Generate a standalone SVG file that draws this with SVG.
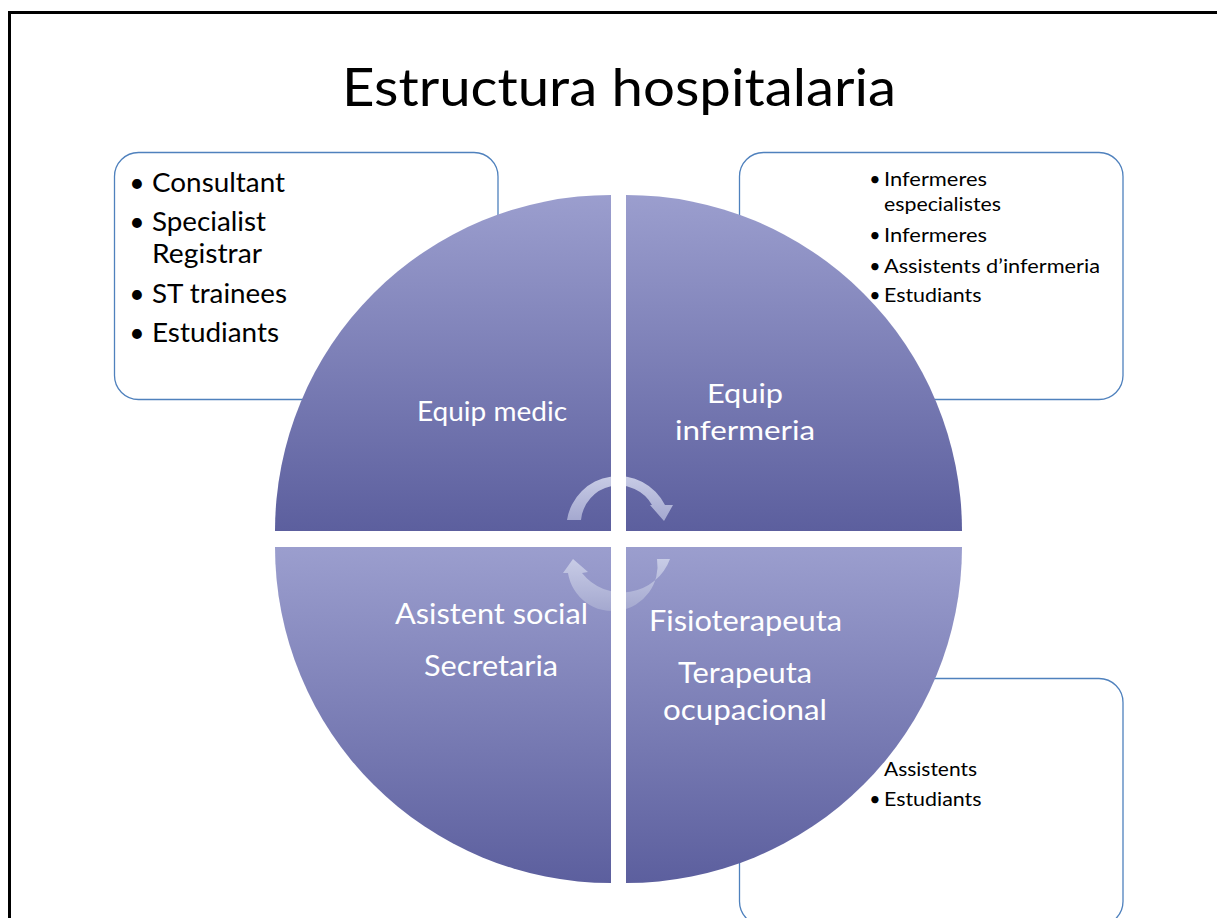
<svg xmlns="http://www.w3.org/2000/svg" width="1217" height="918" viewBox="0 0 1217 918">
<style>
  .box { fill: #ffffff; stroke: #4F81BD; stroke-width: 1.3; }
  .body { font-family: Lato, "Open Sans", "Liberation Sans", sans-serif; fill: #000000; }
  .lg { font-size: 26.5px; }
  .sm { font-size: 19.5px; }
  .bul { text-anchor: middle; }
  .quad { fill: url(#quadGrad); }
  .wt { font-family: Lato, "Open Sans", "Liberation Sans", sans-serif; fill: #ffffff; text-anchor: middle; }
  .title { font-family: Lato, "Open Sans", "Liberation Sans", sans-serif; font-size: 53px; fill: #000000; text-anchor: middle; }
  .arrow { fill: url(#arrowGrad); }
</style>
<defs>
  <linearGradient id="quadGrad" x1="0" y1="0" x2="0" y2="1">
    <stop offset="0" stop-color="#9B9ECE"/>
    <stop offset="1" stop-color="#5C5F9E"/>
  </linearGradient>
  <linearGradient id="arrowGrad" x1="0" y1="0" x2="0" y2="1">
    <stop offset="0" stop-color="#C8CCE6"/>
    <stop offset="1" stop-color="#A4A8CF"/>
  </linearGradient>
  <clipPath id="gapClip">
    <rect x="500" y="440" width="111" height="91"/>
    <rect x="626" y="440" width="111" height="91"/>
    <rect x="500" y="547" width="111" height="91"/>
    <rect x="626" y="547" width="111" height="91"/>
  </clipPath>
</defs>
<rect x="0" y="0" width="1217" height="918" fill="#ffffff"/>
<path d="M9.5,918 V12.5 H1217" fill="none" stroke="#000000" stroke-width="3"/>

<g id="title">
  <text class="title" x="619" y="106" textLength="554" lengthAdjust="spacingAndGlyphs">Estructura hospitalaria</text>
</g>

<g id="box-medic">
  <rect class="box" x="114.5" y="152.5" width="383.5" height="247" rx="24" ry="24"/>
  <text class="body lg bul" x="137" y="192">•</text>
  <text class="body lg" x="152" y="192" textLength="133" lengthAdjust="spacingAndGlyphs">Consultant</text>
  <text class="body lg bul" x="137" y="231">•</text>
  <text class="body lg" x="152" y="231" textLength="114" lengthAdjust="spacingAndGlyphs">Specialist</text>
  <text class="body lg" x="152" y="263" textLength="110" lengthAdjust="spacingAndGlyphs">Registrar</text>
  <text class="body lg bul" x="137" y="303">•</text>
  <text class="body lg" x="152" y="303" textLength="135" lengthAdjust="spacingAndGlyphs">ST trainees</text>
  <text class="body lg bul" x="137" y="342">•</text>
  <text class="body lg" x="152" y="342" textLength="127" lengthAdjust="spacingAndGlyphs">Estudiants</text>
</g>

<g id="box-infermeria">
  <rect class="box" x="739.5" y="152.5" width="383.5" height="247" rx="24" ry="24"/>
  <text class="body sm bul" x="875" y="186">•</text>
  <text class="body sm" x="884" y="186" textLength="103" lengthAdjust="spacingAndGlyphs">Infermeres</text>
  <text class="body sm" x="884" y="211" textLength="117" lengthAdjust="spacingAndGlyphs">especialistes</text>
  <text class="body sm bul" x="875" y="242">•</text>
  <text class="body sm" x="884" y="242" textLength="103" lengthAdjust="spacingAndGlyphs">Infermeres</text>
  <text class="body sm bul" x="875" y="273">•</text>
  <text class="body sm" x="884" y="273" textLength="216" lengthAdjust="spacingAndGlyphs">Assistents d’infermeria</text>
  <text class="body sm bul" x="875" y="302">•</text>
  <text class="body sm" x="884" y="302" textLength="97.5" lengthAdjust="spacingAndGlyphs">Estudiants</text>
</g>

<g id="box-terapia">
  <rect class="box" x="739.5" y="678.5" width="383.5" height="247" rx="24" ry="24"/>
  <text class="body sm" x="884" y="776" textLength="93" lengthAdjust="spacingAndGlyphs">Assistents</text>
  <text class="body sm bul" x="875" y="806">•</text>
  <text class="body sm" x="884" y="806" textLength="97.5" lengthAdjust="spacingAndGlyphs">Estudiants</text>
</g>

<g id="quad-medic">
  <path class="quad" d="M611,531 H275 A336,336 0 0 1 611,195 Z"/>
  <text class="wt" x="492" y="420.5" font-size="26px" textLength="150" lengthAdjust="spacingAndGlyphs">Equip medic</text>
</g>

<g id="quad-infermeria">
  <path class="quad" d="M626,531 V195 A336,336 0 0 1 962,531 Z"/>
  <text class="wt" x="745" y="403" font-size="27.5px" textLength="76" lengthAdjust="spacingAndGlyphs">Equip</text>
  <text class="wt" x="745" y="440" font-size="27.5px" textLength="140" lengthAdjust="spacingAndGlyphs">infermeria</text>
</g>

<g id="quad-social">
  <path class="quad" d="M611,547 V883 A336,336 0 0 1 275,547 Z"/>
  <text class="wt" x="491.5" y="624" font-size="29.5px" textLength="193" lengthAdjust="spacingAndGlyphs">Asistent social</text>
  <text class="wt" x="491" y="676" font-size="29.5px" textLength="134" lengthAdjust="spacingAndGlyphs">Secretaria</text>
</g>

<g id="quad-terapia">
  <path class="quad" d="M626,547 H962 A336,336 0 0 1 626,883 Z"/>
  <text class="wt" x="745.5" y="631" font-size="29.5px" textLength="193" lengthAdjust="spacingAndGlyphs">Fisioterapeuta</text>
  <text class="wt" x="745" y="683" font-size="29.5px" textLength="134" lengthAdjust="spacingAndGlyphs">Terapeuta</text>
  <text class="wt" x="745" y="720" font-size="29.5px" textLength="164" lengthAdjust="spacingAndGlyphs">ocupacional</text>
</g>

<g id="connectors" clip-path="url(#gapClip)">
  <path class="arrow" d="M567,520 A52,52 0 0 1 665,505 L673,505 L664,521 L650,505 L652,505 A38,38 0 0 0 581,520 Z"/>
  <path class="arrow" d="M670,559 A51,51 0 0 1 582,573 L588,572 L573,559 L563,573 L568,573 A38,38 0 0 0 657,559 Z"/>
</g>
</svg>
